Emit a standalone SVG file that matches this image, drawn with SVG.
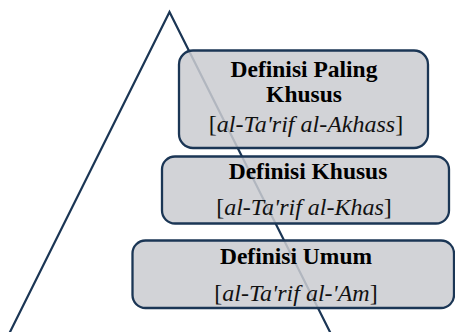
<svg xmlns="http://www.w3.org/2000/svg" width="455" height="332" viewBox="0 0 455 332">
<style>
.box{fill:#cbccd0;fill-opacity:0.86;stroke:#1b3655;stroke-width:2.3}
.b{font-family:"Liberation Serif","Times New Roman",serif;font-weight:bold;font-size:23.5px;fill:#000;text-anchor:middle}
.i{font-family:"Liberation Serif","Times New Roman",serif;font-style:italic;font-size:24px;fill:#111;text-anchor:middle}
.n{font-style:normal}
</style>
<rect width="455" height="332" fill="#fff"/>
<g id="connectors">
<polyline points="9.5,333 169.5,12 330.5,333" fill="none" stroke="#1b3655" stroke-width="2.2" stroke-linejoin="miter"/>
</g>
<g id="node-paling-khusus">
<rect class="box" x="179" y="50.5" width="249" height="97.5" rx="14"/>
<text class="b" x="304" y="77">Definisi Paling</text>
<text class="b" x="304" y="102">Khusus</text>
<text class="i" x="306" y="132"><tspan class="n">[</tspan>al-Ta'rif al-Akhass<tspan class="n">]</tspan></text>
</g>
<g id="node-khusus">
<rect class="box" x="162" y="156.5" width="287" height="67" rx="13"/>
<text class="b" x="308" y="178.5">Definisi Khusus</text>
<text class="i" x="304" y="215"><tspan class="n">[</tspan>al-Ta'rif al-Khas<tspan class="n">]</tspan></text>
</g>
<g id="node-umum">
<rect class="box" x="132.5" y="240.5" width="321.5" height="67.5" rx="13"/>
<text class="b" x="296" y="263.5">Definisi Umum</text>
<text class="i" x="296" y="300.5"><tspan class="n">[</tspan>al-Ta'rif al-'Am<tspan class="n">]</tspan></text>
</g>
</svg>
